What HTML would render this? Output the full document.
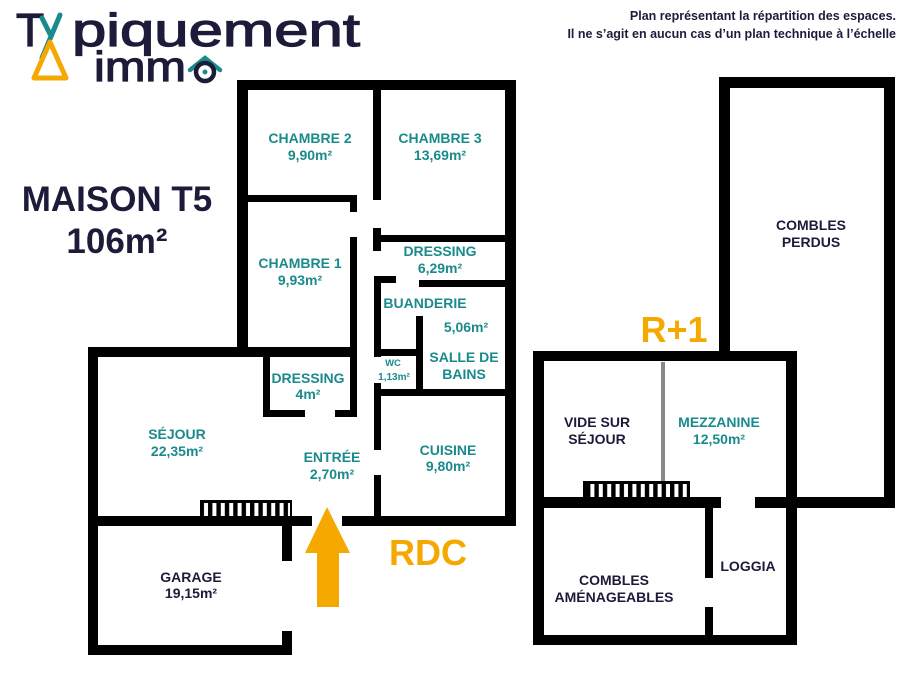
<!DOCTYPE html>
<html><head><meta charset="utf-8"><style>
html,body{margin:0;padding:0;background:#fff}
svg{display:block}
text{font-family:"Liberation Sans",sans-serif;font-weight:bold}
.t{fill:#1a8a8c;font-size:14px;text-anchor:middle}
.d{fill:#1c1c3a;font-size:14px;text-anchor:middle}
</style></head><body>
<svg width="902" height="678" viewBox="0 0 902 678" xmlns="http://www.w3.org/2000/svg">
<defs>
<pattern id="rail" x="0" y="0" width="8.4" height="20" patternUnits="userSpaceOnUse">
<rect x="0" y="0" width="8.4" height="20" fill="#000"/>
<rect x="2.4" y="0" width="4" height="20" fill="#fff"/>
</pattern>
</defs>
<!-- Logo -->
<text x="16" y="46" font-size="46" fill="#1c1c3a" stroke="#1c1c3a" stroke-width="1.2" style="font-weight:normal">T</text>
<line x1="42" y1="18" x2="50" y2="34" stroke="#1a8a8c" stroke-width="5" stroke-linecap="round"/>
<line x1="60" y1="15" x2="42" y2="58" stroke="#1a8a8c" stroke-width="5" stroke-linecap="round"/>
<path d="M50 42 L66 78 L34 78 Z" fill="none" stroke="#f5a800" stroke-width="5" stroke-linejoin="round"/>
<text x="72" y="46" font-size="46" fill="#1c1c3a" stroke="#1c1c3a" stroke-width="1.2" style="font-weight:normal" textLength="288" lengthAdjust="spacingAndGlyphs">piquement</text>
<text x="94" y="81" font-size="42" fill="#1c1c3a" stroke="#1c1c3a" stroke-width="1.2" style="font-weight:normal" textLength="92" lengthAdjust="spacingAndGlyphs">imm</text>
<path d="M190 70 L205 58 L220 70" fill="none" stroke="#1a8a8c" stroke-width="4.5" stroke-linecap="round"/>
<circle cx="205" cy="72" r="9" fill="none" stroke="#1c1c3a" stroke-width="4.5"/>
<circle cx="205" cy="72" r="2.5" fill="#1a8a8c"/>
<!-- header -->
<text x="896" y="20" font-size="12.5" fill="#1c1c3a" text-anchor="end">Plan représentant la répartition des espaces.</text>
<text x="896" y="38" font-size="12.5" fill="#1c1c3a" text-anchor="end">Il ne s’agit en aucun cas d’un plan technique à l’échelle</text>
<!-- title -->
<text x="117" y="211" font-size="35" fill="#1c1c3a" text-anchor="middle">MAISON T5</text>
<text x="117" y="253" font-size="35" fill="#1c1c3a" text-anchor="middle">106m²</text>

<g fill="#000">
<rect x="237" y="80" width="279" height="10"/>
<rect x="237" y="80" width="11" height="277"/>
<rect x="505" y="80" width="11" height="446"/>
<rect x="373" y="90" width="8" height="110"/>
<rect x="373" y="228" width="8" height="23"/>
<rect x="248" y="195" width="109" height="7"/>
<rect x="350" y="195" width="7" height="17"/>
<rect x="350" y="237" width="7" height="180"/>
<rect x="381" y="235" width="124" height="7"/>
<rect x="374" y="276" width="22" height="7"/>
<rect x="419" y="280" width="86" height="7"/>
<rect x="374" y="276" width="7" height="81"/>
<rect x="380" y="349" width="42" height="7"/>
<rect x="416" y="316" width="7" height="77"/>
<rect x="374" y="389" width="131" height="7"/>
<rect x="374" y="383" width="7" height="67"/>
<rect x="374" y="475" width="7" height="46"/>
<rect x="88" y="347" width="269" height="10"/>
<rect x="88" y="347" width="10" height="308"/>
<rect x="263" y="357" width="7" height="60"/>
<rect x="263" y="410" width="42" height="7"/>
<rect x="335" y="410" width="22" height="7"/>
<rect x="88" y="516" width="224" height="10"/>
<rect x="342" y="516" width="174" height="10"/>
<rect x="88" y="645" width="204" height="10"/>
<rect x="282" y="516" width="10" height="45"/>
<rect x="282" y="631" width="10" height="24"/>
<rect x="719" y="77" width="176" height="11"/>
<rect x="719" y="77" width="11" height="284"/>
<rect x="884" y="77" width="11" height="431"/>
<rect x="755" y="497" width="140" height="11"/>
<rect x="533" y="351" width="264" height="10"/>
<rect x="533" y="351" width="11" height="294"/>
<rect x="786" y="351" width="11" height="294"/>
<rect x="533" y="635" width="264" height="10"/>
<rect x="533" y="497" width="188" height="11"/>
<rect x="705" y="508" width="8" height="70"/>
<rect x="705" y="607" width="8" height="38"/>
</g>
<rect x="661" y="362" width="4" height="120" fill="#888"/>
<rect x="200" y="500" width="92" height="16" fill="#000"/>
<rect x="203" y="503" width="87" height="13" fill="url(#rail)"/>
<rect x="583" y="481" width="107" height="16" fill="#000"/>
<rect x="586" y="484" width="102" height="13" fill="url(#rail)"/>
<path d="M327 507 L350 553 L339 553 L339 607 L317 607 L317 553 L305 553 Z" fill="#f5a800"/>
<text x="428" y="565" font-size="36" fill="#f5a800" text-anchor="middle">RDC</text>
<text x="674" y="342" font-size="36" fill="#f5a800" text-anchor="middle">R+1</text>

<text class="t" x="310" y="143">CHAMBRE 2</text><text class="t" x="310" y="160">9,90m²</text>
<text class="t" x="440" y="143">CHAMBRE 3</text><text class="t" x="440" y="160">13,69m²</text>
<text class="t" x="300" y="268">CHAMBRE 1</text><text class="t" x="300" y="285">9,93m²</text>
<text class="t" x="440" y="256">DRESSING</text><text class="t" x="440" y="273">6,29m²</text>
<text class="t" x="425" y="308">BUANDERIE</text>
<text class="t" x="466" y="332">5,06m²</text>
<text class="t" x="464" y="362">SALLE DE</text><text class="t" x="464" y="379">BAINS</text>
<text class="t" x="393" y="366" style="font-size:9.5px">WC</text><text class="t" x="394" y="380" style="font-size:10px">1,13m²</text>
<text class="t" x="308" y="383">DRESSING</text><text class="t" x="308" y="399">4m²</text>
<text class="t" x="177" y="439">SÉJOUR</text><text class="t" x="177" y="456">22,35m²</text>
<text class="t" x="332" y="462">ENTRÉE</text><text class="t" x="332" y="479">2,70m²</text>
<text class="t" x="448" y="455">CUISINE</text><text class="t" x="448" y="471">9,80m²</text>
<text class="d" x="191" y="582">GARAGE</text><text class="d" x="191" y="598">19,15m²</text>
<text class="d" x="597" y="427">VIDE SUR</text><text class="d" x="597" y="444">SÉJOUR</text>
<text class="t" x="719" y="427">MEZZANINE</text><text class="t" x="719" y="444">12,50m²</text>
<text class="d" x="614" y="585">COMBLES</text><text class="d" x="614" y="602">AMÉNAGEABLES</text>
<text class="d" x="748" y="571">LOGGIA</text>
<text class="d" x="811" y="230">COMBLES</text><text class="d" x="811" y="247">PERDUS</text>
</svg>
</body></html>
